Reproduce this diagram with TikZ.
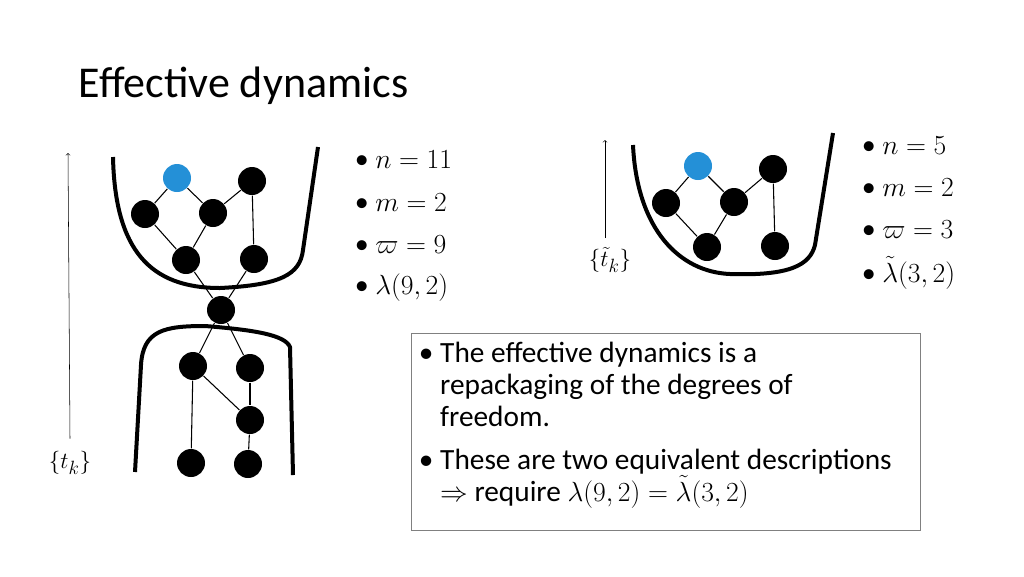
\documentclass[tikz,border=0pt]{standalone}
\usepackage{fontspec}
\setmainfont{Carlito}
\usepackage{amsmath}
\tikzstyle{vtx} = [circle, fill=black, inner sep=0pt, minimum size=21pt]
\tikzstyle{hot} = [vtx, fill=cyan!70!blue!90]
\tikzstyle{cup} = [line width=3pt]
\tikzstyle{item} = [anchor=west, font=\fontsize{21}{24}\selectfont]
\begin{document}
\begin{tikzpicture}[x=0.75pt, y=-0.75pt, line width=0.8pt]
        \useasboundingbox (0,0) rectangle (1024,576);
        \node [anchor=west, font=\fontsize{33}{38}\selectfont] (title) at (74,86) {Effective dynamics};
        % left graph
        \node [hot] (lb) at (177,178) {};
        \node [vtx] (la) at (252,181) {};
        \node [vtx] (l1) at (145,214) {};
        \node [vtx] (l2) at (213,213) {};
        \node [vtx] (l3) at (186,260) {};
        \node [vtx] (l4) at (254,259) {};
        \node [vtx] (lc) at (221,310) {};
        \node [vtx] (l5) at (193,366) {};
        \node [vtx] (l6) at (250,368) {};
        \node [vtx] (l7) at (250,420) {};
        \node [vtx] (l8) at (191,463) {};
        \node [vtx] (l9) at (248,464) {};
        \draw (lb) -- (l1);
        \draw (lb) -- (l2);
        \draw (l2) -- (la);
        \draw (la) -- (l4);
        \draw (l1) -- (l3);
        \draw (l2) -- (l3);
        \draw (l3) -- (lc);
        \draw (l4) -- (lc);
        \draw (lc) -- (l5);
        \draw (lc) -- (l6);
        \draw (l5) -- (l7);
        \draw (l6) -- (l7);
        \draw (l5) -- (l8);
        \draw (l7) -- (l9);
        \draw [cup] (113,157) .. controls (115,250) and (150,288) .. (220,288)
            .. controls (280,285) and (300,275) .. (303,250) -- (318,147);
        \draw [cup] (135,472) -- (141,365) .. controls (143,330) and (165,326) .. (205,326)
            .. controls (255,330) and (285,335) .. (290,347) -- (293,475);
        % right graph
        \node [hot] (rb) at (698,166) {};
        \node [vtx] (ra) at (773,169) {};
        \node [vtx] (r1) at (666,203) {};
        \node [vtx] (r2) at (734,202) {};
        \node [vtx] (r3) at (707,247) {};
        \node [vtx] (r4) at (775,246) {};
        \draw (rb) -- (r1);
        \draw (rb) -- (r2);
        \draw (r2) -- (ra);
        \draw (ra) -- (r4);
        \draw (r1) -- (r3);
        \draw (r2) -- (r3);
        \draw [cup] (633,145) .. controls (637,230) and (680,272) .. (730,274)
            .. controls (790,276) and (810,265) .. (815,245) -- (833,133);
        % time arrows
        \node [font=\fontsize{19}{22}\selectfont] (tk) at (70,463) {$\{t_k\}$};
        \coordinate (tktop) at (68,153);
        \draw [->, thin] (tk.north) ++(0,-8) -- (tktop);
        \node [font=\fontsize{19}{22}\selectfont] (ttk) at (610,260) {$\{\tilde t_k\}$};
        \coordinate (ttktop) at (605,140);
        \draw [->, thin] (605,238) -- (ttktop);
        % lists
        \node [item] (n1) at (350,160) {\textbullet\ $n=11$};
        \node [item] (n2) at (350,203) {\textbullet\ $m=2$};
        \node [item] (n3) at (350,245) {\textbullet\ $\varpi=9$};
        \node [item] (n4) at (350,288) {\textbullet\ $\lambda(9,2)$};
        \node [item] (m1) at (857,146) {\textbullet\ $n=5$};
        \node [item] (m2) at (857,188) {\textbullet\ $m=2$};
        \node [item] (m3) at (857,230) {\textbullet\ $\varpi=3$};
        \node [item] (m4) at (857,273) {\textbullet\ $\tilde\lambda(3,2)$};
        % text box
        \draw [gray, thin] (411,333) rectangle (920,530);
        \node [anchor=north west, align=left, font=\fontsize{22}{24}\selectfont] (box) at (414,337)
            {\textbullet\ The effective dynamics is a\\
             \phantom{\textbullet\ }repackaging of the degrees of\\
             \phantom{\textbullet\ }freedom.\\[8pt]
             \textbullet\ These are two equivalent descriptions\\
             \phantom{\textbullet\ }$\Rightarrow$ require $\lambda(9,2)=\tilde\lambda(3,2)$};
    \end{tikzpicture}
\end{document}
